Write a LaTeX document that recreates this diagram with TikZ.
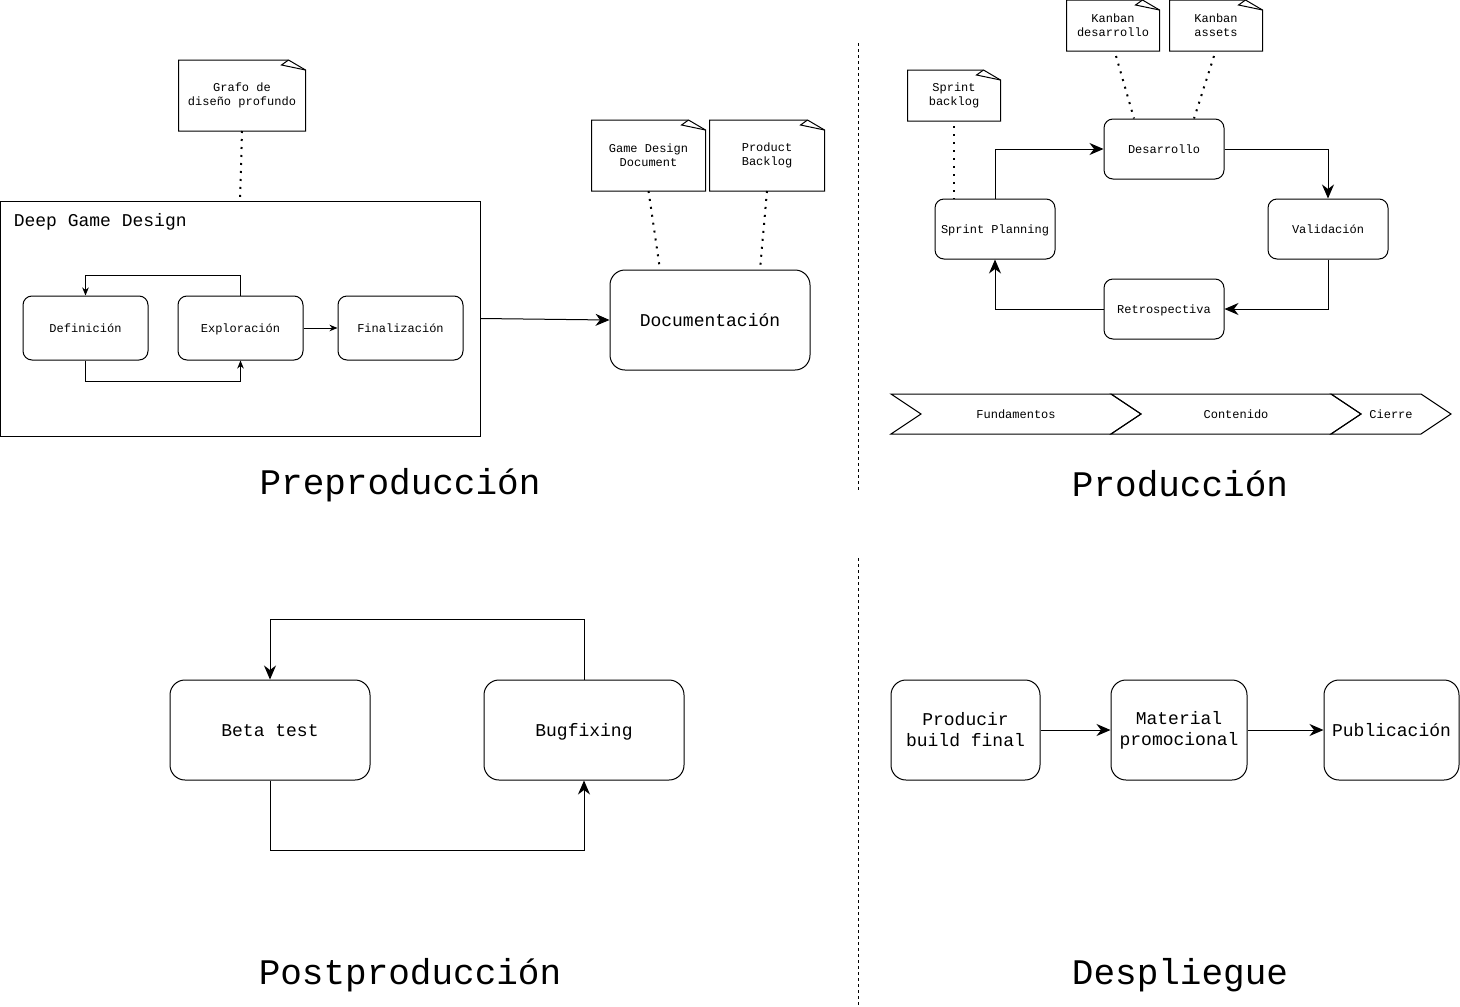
\documentclass[tikz,border=0pt]{standalone}
\usepackage{fontspec}
\setmonofont{Liberation Mono}
\usepackage{tikz}
\usetikzlibrary{arrows.meta,positioning}

\tikzset{
  box/.style={draw, rounded corners=9pt, minimum width=120pt, minimum height=60pt, align=center, inner sep=0pt, text height=11pt, text depth=2pt, font=\ttfamily\fontsize{12}{14}\selectfont},
  bigbox/.style={box, rounded corners=15pt, minimum width=200pt, minimum height=100pt, text height=15pt, text depth=3pt, font=\ttfamily\fontsize{18}{21}\selectfont},
  twoline/.style={text height=, text depth=},
  note/.style={inner sep=0pt, align=center, font=\ttfamily\fontsize{12}{14}\selectfont},
  lbl/.style={font=\ttfamily\fontsize{12}{14}\selectfont},
  title/.style={font=\ttfamily\fontsize{36}{40}\selectfont},
  flow/.style={-{Stealth[length=14pt,width=12pt,inset=4.5pt]}},
  smallflow/.style={-{Stealth[length=8pt,width=6.5pt,inset=2.5pt]}},
  link/.style={line width=2pt, dash pattern=on 2pt off 6pt}
}

\newcommand{\foldnote}[1]{%
  \draw (#1.south west) -- (#1.north west) -- ([xshift=-17pt]#1.north east) -- ([yshift=-10pt]#1.north east) -- (#1.south east) -- cycle;
  \draw ([xshift=-17pt]#1.north east) -- ([xshift=-24pt,yshift=-5pt]#1.north east) -- ([yshift=-10pt]#1.north east);}

\begin{document}
\begin{tikzpicture}[x=1pt,y=-1pt,line width=1pt]
\useasboundingbox (0,0) rectangle (1460,1007);

% Preproduccion
\node[draw, minimum width=480pt, minimum height=235pt, inner sep=0pt] (dgd) at (240,318.5) {};
\node[anchor=west, font=\ttfamily\fontsize{18}{21}\selectfont] (dgdname) at (10,222) {Deep Game Design};
\node[box, minimum width=125pt, minimum height=64pt] (defin) at (85.5,328) {Definición};
\node[box, minimum width=125pt, minimum height=64pt] (explo) at (240.5,328) {Exploración};
\node[box, minimum width=125pt, minimum height=64pt] (final) at (400.5,328) {Finalización};
\node[note, minimum width=126pt, minimum height=70pt] (grafo) at (242,95.5) {Grafo de\\diseño profundo};
\foldnote{grafo}
\node[bigbox] (doc) at (710,320) {Documentación};
\node[note, minimum width=113pt, minimum height=70pt] (gdd) at (648.5,155.5) {Game Design\\Document};
\foldnote{gdd}
\node[note, minimum width=114pt, minimum height=70pt] (pbl) at (767,155.5) {Product\\Backlog};
\foldnote{pbl}

\draw[smallflow] (explo.north) -- ++(0,-20) -| (defin.north);
\draw[smallflow] (defin.south) -- ++(0,21) -| (explo.south);
\draw[smallflow] (explo) -- (final);
\draw[flow] (dgd.east) -- (doc.west);
\draw[link] (grafo.south) -- (dgd.north);
\draw[link] (gdd.south) -- ([xshift=-50pt]doc.north);
\draw[link] (pbl.south) -- ([xshift=50pt]doc.north);

\node[title] (pre) at (400,485) {Preproducción};

% separadores
\draw[dashed] (858.5,43) -- (858.5,490);
\draw[dashed] (858.5,558) -- (858.5,1007);

% Produccion
\node[box] (desa) at (1164,149) {Desarrollo};
\node[box] (sp) at (995,229) {Sprint Planning};
\node[box] (vali) at (1328,229) {Validación};
\node[box] (retro) at (1164,309) {Retrospectiva};
\node[note, minimum width=92pt, minimum height=50pt] (sbl) at (954,95.5) {Sprint\\backlog};
\foldnote{sbl}
\node[note, minimum width=92pt, minimum height=50pt] (kdes) at (1113,25.5) {Kanban\\desarrollo};
\foldnote{kdes}
\node[note, minimum width=92pt, minimum height=50pt] (kass) at (1216,25.5) {Kanban\\assets};
\foldnote{kass}

\draw[flow] (sp.north) |- (desa.west);
\draw[flow] (desa.east) -| (vali.north);
\draw[flow] (vali.south) |- (retro.east);
\draw[flow] (retro.west) -| (sp.south);
\draw[link] ([yshift=-5pt]sbl.south) -- (sbl.south |- sp.north);
\draw[link] ([xshift=3pt,yshift=-5pt]kdes.south) -- ([xshift=-30pt]desa.north);
\draw[link] ([xshift=-2pt,yshift=-5pt]kass.south) -- ([xshift=30pt]desa.north);

\draw (891,394) -- (1111,394) -- (1141,414) -- (1111,434) -- (891,434) -- (921,414) -- cycle;
\draw (1111,394) -- (1331,394) -- (1361,414) -- (1331,434) -- (1111,434) -- (1141,414) -- cycle;
\draw (1331,394) -- (1421,394) -- (1451,414) -- (1421,434) -- (1331,434) -- (1361,414) -- cycle;
\node[lbl] (fund) at (1016,414.5) {Fundamentos};
\node[lbl] (cont) at (1236,414.5) {Contenido};
\node[lbl] (cier) at (1391,414.5) {Cierre};

\node[title] (prod) at (1180,484) {Producción};

% Postproduccion
\node[bigbox] (beta) at (270,730) {Beta test};
\node[bigbox] (bug) at (584,730) {Bugfixing};
\draw[flow] (bug.north) -- ++(0,-60) -| (beta.north);
\draw[flow] (beta.south) -- ++(0,70) -| (bug.south);

\node[title] (post) at (410,975) {Postproducción};

% Despliegue
\node[bigbox, twoline, minimum width=149pt] (build) at (965.5,730) {Producir\\build final};
\node[bigbox, twoline, minimum width=136pt] (promo) at (1179,730) {Material\\promocional};
\node[bigbox, minimum width=135pt] (publi) at (1391.5,730) {Publicación};
\draw[flow] (build) -- (promo);
\draw[flow] (promo) -- (publi);

\node[title] (desp) at (1180,975) {Despliegue};
\end{tikzpicture}
\end{document}
